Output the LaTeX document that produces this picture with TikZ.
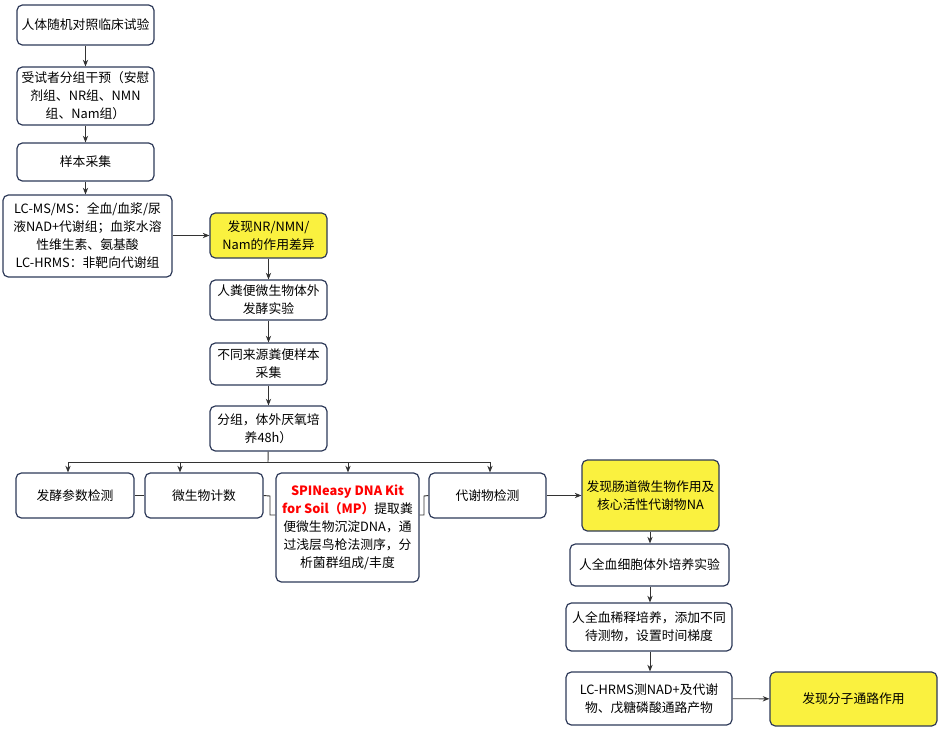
\documentclass[tikz,border=0pt]{standalone}
\usepackage{fontspec}
\setmainfont{Noto Sans CJK SC}
\usetikzlibrary{arrows.meta}
\definecolor{bd}{HTML}{2E3A59}
\definecolor{yl}{HTML}{FAF13F}
\begin{document}
\begin{tikzpicture}[x=0.75pt,y=-0.75pt,
  bx/.style={draw=bd,line width=0.9pt,rounded corners=4pt,fill=white,align=center,font=\fontsize{9.6}{13.5}\selectfont,inner sep=0pt},
  yb/.style={bx,fill=yl},
  ar/.style={-{Stealth[length=5pt,width=4pt]},line width=0.7pt,black!80},
  ln/.style={line width=0.7pt,black!80}]
\useasboundingbox (0,0) rectangle (938,729);
\newcommand{\bxat}[7]{\node[#1,minimum width={(#4-#2)*0.75pt},minimum height={(#5-#3)*0.75pt}] (#6) at ({(#2+#4)/2},{(#3+#5)/2}) {#7};}
\bxat{bx}{17}{5}{154}{45}{a}{人体随机对照临床试验}
\bxat{bx}{17}{67}{154}{125}{b}{受试者分组干预（安慰\\剂组、NR组、NMN\\组、Nam组）}
\bxat{bx}{17}{143}{154}{181}{c}{样本采集}
\bxat{bx}{3}{195}{172}{277}{d}{LC-MS/MS：全血/血浆/尿\\液NAD+代谢组；血浆水溶\\性维生素、氨基酸\\LC-HRMS：非靶向代谢组}
\bxat{yb}{210}{213}{327}{258}{e}{发现NR/NMN/\\Nam的作用差异}
\bxat{bx}{210}{280}{327}{320}{f}{人粪便微生物体外\\发酵实验}
\bxat{bx}{210}{343}{327}{385}{g}{不同来源粪便样本\\采集}
\bxat{bx}{210}{406}{327}{451}{h}{分组，体外厌氧培\\养48h）}
\bxat{bx}{16}{473}{134}{518}{i}{发酵参数检测}
\bxat{bx}{145}{473}{263}{518}{j}{微生物计数}
\bxat{bx}{276}{473}{419}{582}{k}{\textcolor{red}{\bfseries SPINeasy DNA Kit}\\\textcolor{red}{\bfseries for Soil（MP）}提取粪\\便微生物沉淀DNA，通\\过浅层鸟枪法测序，分\\析菌群组成/丰度}
\bxat{bx}{429}{473}{546}{518}{l}{代谢物检测}
\bxat{yb}{582}{460}{719}{531}{m}{发现肠道微生物作用及\\核心活性代谢物NA}
\bxat{bx}{570}{544}{729}{586}{n}{人全血细胞体外培养实验}
\bxat{bx}{566}{603}{732}{651}{o}{人全血稀释培养，添加不同\\待测物，设置时间梯度}
\bxat{bx}{566}{672}{732}{725}{p}{LC-HRMS测NAD+及代谢\\物、戊糖磷酸通路产物}
\bxat{yb}{770}{672}{937}{726}{q}{发现分子通路作用}
\draw[ar] (a) -- (b);
\draw[ar] (b) -- (c);
\draw[ar] (c) -- (c|-d.north);
\draw[ar] (d.east|-e) -- (e);
\draw[ar] (e) -- (f);
\draw[ar] (f) -- (g);
\draw[ar] (g) -- (h);
\coordinate (bus) at (268,462);
\draw[ln] (h) -- (bus);
\draw[ln] (68,462) -- (490,462);
\draw[ar] (68,462) -- (i.north-|68,0);
\draw[ar] (180,462) -- (j.north-|180,0);
\draw[ar] (348,462) -- (k.north-|348,0);
\draw[ar] (490,462) -- (l.north-|490,0);
\draw[ln] (i) -- (j);
\draw[ln] (j.east) -- (270,496) -- (270,515) -- (k.west|-0,515);
\draw[ln] (k.east|-0,515) -- (424,515) -- (424,496) -- (l.west);
\draw[ar] (l) -- (m.west|-l);
\draw[ar] (m.south-|650,0) -- (n.north-|650,0);
\draw[ar] (n.south-|650,0) -- (o.north-|650,0);
\draw[ar] (o.south-|650,0) -- (p.north-|650,0);
\draw[ar] (p) -- (q);
\end{tikzpicture}
\end{document}
